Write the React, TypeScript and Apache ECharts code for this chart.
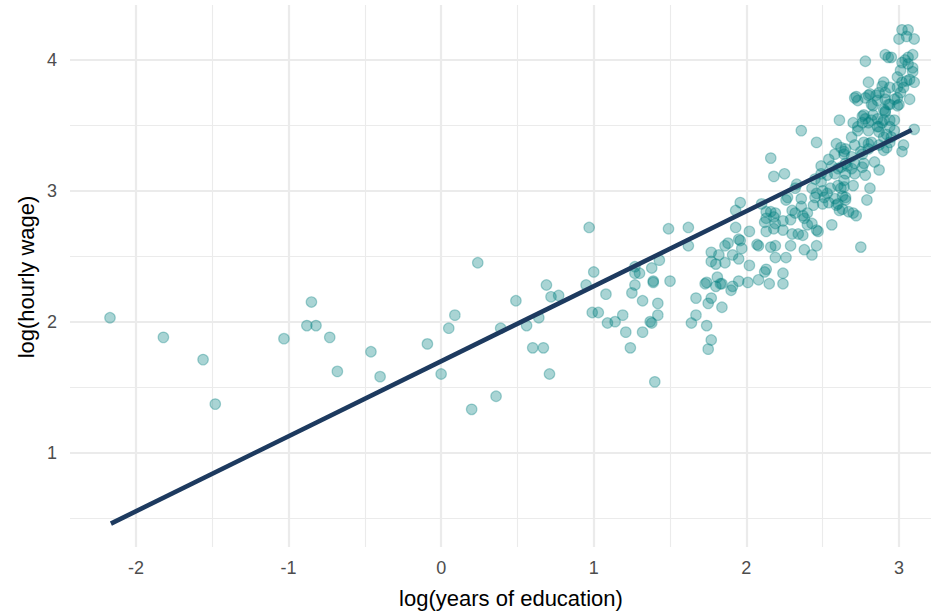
import React, { useEffect, useRef } from "react";
import * as echarts from "echarts";

// log(years of education), log(hourly wage) pairs, grouped by region of the cloud
const sparsePoints: number[][] = [
  [-2.17, 2.03], [-1.82, 1.88], [-1.56, 1.71], [-1.48, 1.37], [-1.03, 1.87], [-0.88, 1.97],
  [-0.82, 1.97], [-0.85, 2.15], [-0.73, 1.88], [-0.68, 1.62], [-0.46, 1.77], [-0.40, 1.58],
  [-0.09, 1.83], [0.0, 1.6], [0.05, 1.95], [0.09, 2.05], [0.2, 1.33], [0.24, 2.45],
  [0.36, 1.43], [0.39, 1.95], [0.49, 2.16], [0.56, 1.97], [0.6, 1.8], [0.64, 2.03],
  [0.67, 1.8], [0.69, 2.28], [0.71, 1.6], [0.72, 2.19], [0.77, 2.2],
];

const middlePoints: number[][] = [
  [0.95, 2.28], [0.97, 2.72], [1.0, 2.38], [0.99, 2.07], [1.03, 2.07], [1.08, 2.21],
  [1.09, 1.99], [1.14, 2.0], [1.19, 2.05], [1.21, 1.92], [1.24, 1.8], [1.25, 2.22],
  [1.27, 2.28], [1.27, 2.42], [1.27, 2.37], [1.3, 2.37], [1.32, 2.16], [1.32, 1.92],
  [1.38, 2.41], [1.39, 2.31], [1.39, 2.3], [1.37, 2.0], [1.38, 1.99], [1.42, 2.14],
  [1.42, 2.05], [1.4, 1.54], [1.43, 2.47], [1.49, 2.71], [1.5, 2.31], [1.62, 2.72],
  [1.62, 2.58],
];

const risingPoints: number[][] = [
  [1.64, 1.99], [1.67, 2.05], [1.67, 2.18], [1.74, 1.97], [1.75, 1.79], [1.77, 1.86],
  [1.75, 2.14], [1.77, 2.18], [1.84, 2.11], [1.73, 2.29], [1.74, 2.3], [1.8, 2.27],
  [1.81, 2.34], [1.83, 2.29], [1.84, 2.29], [1.9, 2.24], [1.91, 2.27], [1.95, 2.31],
  [2.01, 2.3], [2.02, 2.43], [1.77, 2.53], [1.82, 2.51], [1.77, 2.46], [1.86, 2.45],
  [1.8, 2.44], [1.86, 2.58], [1.88, 2.6], [1.91, 2.51], [1.95, 2.48], [1.95, 2.63],
  [1.96, 2.62], [1.97, 2.56], [1.93, 2.72], [2.02, 2.69], [1.96, 2.91], [1.93, 2.85],
];

const lowerBandPoints: number[][] = [
  [2.07, 2.59], [2.08, 2.58], [2.08, 2.32], [2.12, 2.38], [2.13, 2.4], [2.15, 2.29],
  [2.24, 2.37], [2.24, 2.29], [2.19, 2.49], [2.26, 2.49], [2.16, 2.57], [2.19, 2.58],
  [2.29, 2.58], [2.38, 2.55], [2.43, 2.51], [2.46, 2.58], [2.13, 2.69], [2.18, 2.71],
  [2.24, 2.7], [2.3, 2.67], [2.34, 2.67], [2.37, 2.66], [2.12, 2.76], [2.13, 2.79],
  [2.18, 2.8], [2.19, 2.75], [2.24, 2.77], [2.29, 2.78], [2.13, 2.84], [2.16, 2.84],
  [2.19, 2.83], [2.1, 2.9], [2.3, 2.85], [2.32, 2.83], [2.37, 2.81], [2.38, 2.79],
  [2.4, 2.74], [2.43, 2.75], [2.46, 2.7], [2.47, 2.69], [2.56, 2.74], [2.26, 2.93],
  [2.27, 2.95], [2.36, 2.94], [2.36, 2.88], [2.44, 2.89], [2.4, 2.83], [2.75, 2.57],
];

const centerBandPoints: number[][] = [
  [2.33, 3.05], [2.32, 3.02], [2.43, 3.02], [2.46, 2.98], [2.45, 2.95], [2.5, 3.0],
  [2.55, 3.02], [2.6, 3.04], [2.64, 3.08], [2.63, 2.96], [2.65, 2.95], [2.51, 2.95],
  [2.54, 2.91], [2.58, 2.94], [2.5, 2.9], [2.6, 2.9], [2.63, 2.86], [2.67, 2.84],
  [2.7, 2.83], [2.72, 2.81], [2.59, 2.89], [2.61, 2.85], [2.64, 3.03], [2.7, 3.04],
  [2.81, 3.02], [2.79, 2.93], [2.45, 3.09], [2.49, 3.07], [2.53, 2.98], [2.62, 3.02],
  [2.65, 2.93],
];

const upperBandPoints: number[][] = [
  [2.16, 3.25], [2.18, 3.11], [2.25, 3.13], [2.49, 3.19], [2.54, 3.24], [2.56, 3.19],
  [2.62, 3.18], [2.65, 3.21], [2.49, 3.13], [2.53, 3.12], [2.58, 3.13], [2.65, 3.13],
  [2.71, 3.13], [2.6, 3.17], [2.66, 3.19], [2.69, 3.17], [2.71, 3.21], [2.77, 3.21],
  [2.78, 3.12], [2.84, 3.22], [2.87, 3.16], [2.76, 3.18], [2.64, 3.28], [2.69, 3.26],
  [2.76, 3.28], [2.58, 3.28], [2.75, 3.3], [2.64, 3.3], [2.65, 3.32], [2.8, 3.32],
  [2.9, 3.31], [2.92, 3.33], [3.02, 3.3], [3.03, 3.35],
];

const highBandPoints: number[][] = [
  [2.36, 3.46], [2.46, 3.37], [2.59, 3.36], [2.62, 3.33], [2.71, 3.35], [2.69, 3.41],
  [2.77, 3.37], [2.8, 3.36], [2.82, 3.37], [2.87, 3.35], [2.94, 3.37], [2.9, 3.41],
  [2.87, 3.45], [2.92, 3.43], [2.95, 3.41], [2.89, 3.52], [2.94, 3.54], [2.97, 3.54],
  [2.8, 3.52], [2.76, 3.52], [2.7, 3.52], [2.73, 3.49], [2.73, 3.46], [2.8, 3.46],
  [2.86, 3.49], [2.87, 3.49], [2.94, 3.49], [2.97, 3.46], [2.77, 3.58], [2.83, 3.58],
  [2.91, 3.6], [2.76, 3.57], [2.78, 3.55], [2.82, 3.54], [2.86, 3.55], [2.9, 3.54],
  [2.61, 3.54], [3.1, 3.47],
];

const topPoints: number[][] = [
  [2.82, 3.66], [2.72, 3.72], [2.73, 3.69], [2.8, 3.73], [2.71, 3.71], [2.78, 3.71],
  [2.81, 3.74], [2.83, 3.65], [2.85, 3.73], [2.87, 3.75], [2.89, 3.8], [2.9, 3.83],
  [2.91, 3.75], [2.91, 3.7], [2.94, 3.66], [2.97, 3.7], [2.99, 3.65], [2.91, 3.61],
  [2.8, 3.83], [2.94, 3.79], [2.86, 3.69], [2.93, 3.66], [2.9, 3.62], [2.99, 3.71],
  [3.01, 3.75], [2.99, 3.79], [3.03, 3.79], [3.02, 3.83], [3.05, 3.84], [3.07, 3.85],
  [3.1, 3.83], [2.99, 3.87], [3.01, 3.92], [3.09, 3.94], [3.06, 3.97], [3.02, 3.98],
  [3.04, 4.0], [3.06, 4.02], [3.09, 4.04], [3.07, 3.7], [3.0, 3.66], [3.09, 3.91],
  [2.78, 3.99], [2.91, 4.04], [2.93, 4.02], [2.95, 4.02], [3.02, 4.23], [3.06, 4.23],
  [3.0, 4.16], [3.05, 4.18], [3.1, 4.16],
];

// fitted regression line (end points)
const fitX = [-2.164, 3.083];
const fitY = [0.457, 3.465];

// axis ticks
const xMajorTicks = [-2, -1, 0, 1, 2, 3];
const xMinorTicks = [-1.5, -0.5, 0.5, 1.5, 2.5];
const yMajorTicks = [1, 2, 3, 4];
const yMinorTicks = [0.5, 1.5, 2.5, 3.5];

const FONT = "'Liberation Sans', Arial, Helvetica, sans-serif";

export default function App() {
  const ref = useRef<HTMLDivElement>(null);

  useEffect(() => {
    if (!ref.current) return;
    const chart = echarts.init(ref.current, undefined, { renderer: "svg" });

    const points = [
      ...sparsePoints,
      ...middlePoints,
      ...risingPoints,
      ...lowerBandPoints,
      ...centerBandPoints,
      ...upperBandPoints,
      ...highBandPoints,
      ...topPoints,
    ];

    const gridColor = "#ebebeb";
    const majorStyle = { color: gridColor, width: 2.2, type: "solid" as const };
    const minorStyle = { color: gridColor, width: 1.1, type: "solid" as const };

    const gridLines = [
      ...xMinorTicks.map((v) => ({ xAxis: v, lineStyle: minorStyle })),
      ...yMinorTicks.map((v) => ({ yAxis: v, lineStyle: minorStyle })),
      ...xMajorTicks.map((v) => ({ xAxis: v, lineStyle: majorStyle })),
      ...yMajorTicks.map((v) => ({ yAxis: v, lineStyle: majorStyle })),
    ];

    chart.setOption({
      animation: false,
      backgroundColor: "#ffffff",
      grid: {
        left: 70,
        top: 5,
        right: 0,
        bottom: 68,
        containLabel: false,
        outerBoundsMode: "none",
      },
      xAxis: {
        type: "value",
        min: -2.432,
        max: 3.21,
        axisLine: { show: false },
        axisTick: { show: false },
        splitLine: { show: false },
        axisLabel: {
          customValues: xMajorTicks,
          margin: 12,
          fontSize: 18,
          fontFamily: FONT,
          color: "#4d4d4d",
        },
      },
      yAxis: {
        type: "value",
        min: 0.278,
        max: 4.42,
        axisLine: { show: false },
        axisTick: { show: false },
        splitLine: { show: false },
        axisLabel: {
          customValues: yMajorTicks,
          margin: 13,
          fontSize: 18,
          fontFamily: FONT,
          color: "#4d4d4d",
        },
      },
      graphic: [
        {
          type: "text",
          x: 511,
          y: 598,
          style: {
            text: "log(years of education)",
            align: "center",
            verticalAlign: "middle",
            fontSize: 22,
            fontFamily: FONT,
            fill: "#000000",
          },
        },
        {
          type: "text",
          x: 26,
          y: 277,
          rotation: Math.PI / 2,
          style: {
            text: "log(hourly wage)",
            align: "center",
            verticalAlign: "middle",
            fontSize: 22,
            fontFamily: FONT,
            fill: "#000000",
          },
        },
      ],
      series: [
        {
          type: "scatter",
          z: 1,
          silent: true,
          data: [],
          markLine: {
            silent: true,
            symbol: "none",
            label: { show: false },
            emphasis: { disabled: true },
            data: gridLines,
          },
        },
        {
          type: "scatter",
          z: 10,
          silent: true,
          symbol: "circle",
          symbolSize: 10.5,
          data: points,
          itemStyle: {
            color: "rgba(0,128,128,0.42)",
            borderColor: "rgba(0,128,128,0.42)",
            borderWidth: 1.2,
          },
        },
        {
          type: "line",
          z: 12,
          silent: true,
          symbol: "none",
          data: fitX.map((x, i) => [x, fitY[i]]),
          lineStyle: { color: "#1d3a5f", width: 4.6, cap: "butt" },
        },
      ],
    });

    return () => chart.dispose();
  }, []);

  return (
    <div
      ref={ref}
      style={{ position: "fixed", left: 0, top: 0, width: 931, height: 615 }}
    />
  );
}
